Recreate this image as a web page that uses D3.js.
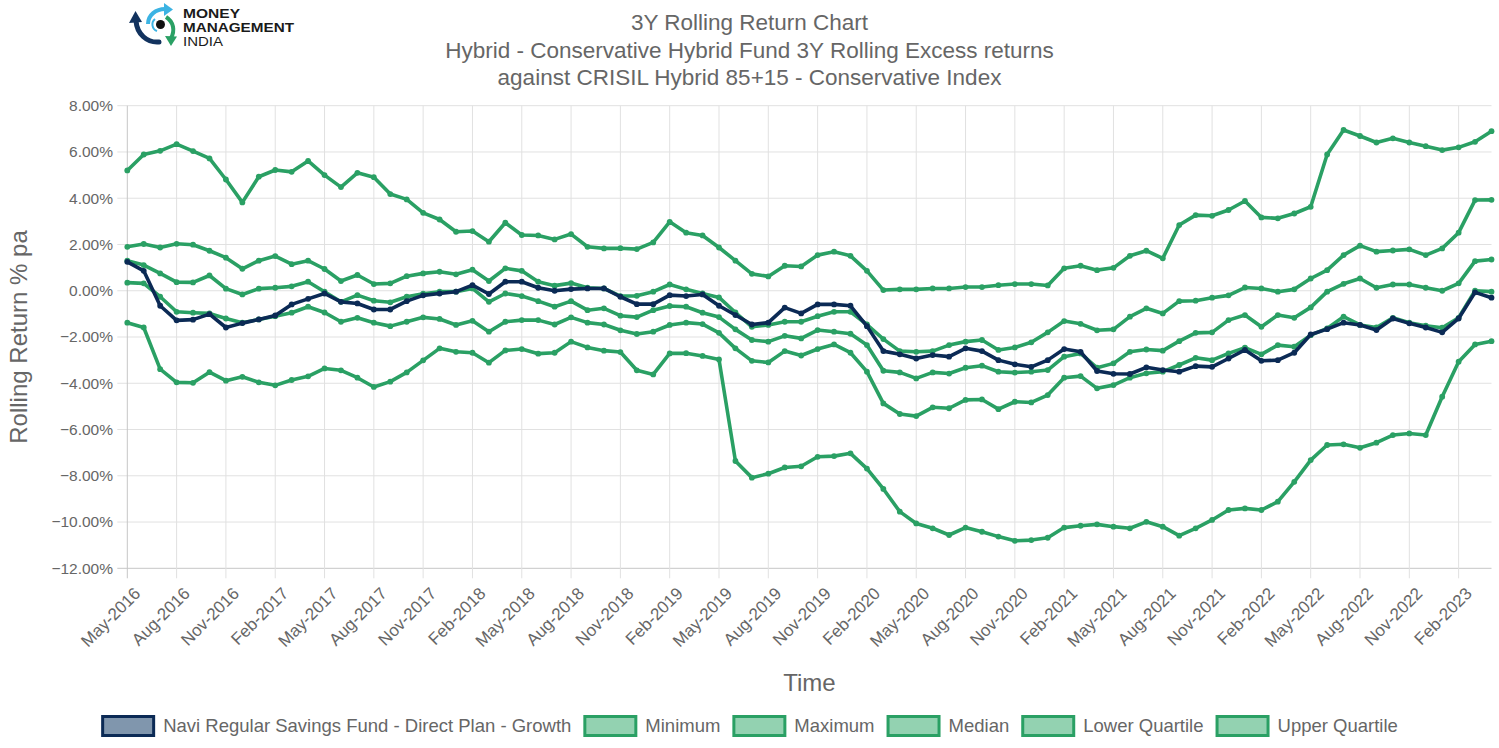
<!DOCTYPE html>
<html><head><meta charset="utf-8">
<script src="https://cdn.jsdelivr.net/npm/d3@7"></script>
<style>
body{margin:0;background:#fff;}
svg{display:block;font-family:"Liberation Sans",Arial,Helvetica,sans-serif;}
</style>
</head><body>
<svg id="chart" width="1499" height="748"></svg>
<script>
const months = ["May-2016","Jun-2016","Jul-2016","Aug-2016","Sep-2016","Oct-2016","Nov-2016","Dec-2016",
"Jan-2017","Feb-2017","Mar-2017","Apr-2017","May-2017","Jun-2017","Jul-2017","Aug-2017","Sep-2017","Oct-2017","Nov-2017","Dec-2017",
"Jan-2018","Feb-2018","Mar-2018","Apr-2018","May-2018","Jun-2018","Jul-2018","Aug-2018","Sep-2018","Oct-2018","Nov-2018","Dec-2018",
"Jan-2019","Feb-2019","Mar-2019","Apr-2019","May-2019","Jun-2019","Jul-2019","Aug-2019","Sep-2019","Oct-2019","Nov-2019","Dec-2019",
"Jan-2020","Feb-2020","Mar-2020","Apr-2020","May-2020","Jun-2020","Jul-2020","Aug-2020","Sep-2020","Oct-2020","Nov-2020","Dec-2020",
"Jan-2021","Feb-2021","Mar-2021","Apr-2021","May-2021","Jun-2021","Jul-2021","Aug-2021","Sep-2021","Oct-2021","Nov-2021","Dec-2021",
"Jan-2022","Feb-2022","Mar-2022","Apr-2022","May-2022","Jun-2022","Jul-2022","Aug-2022","Sep-2022","Oct-2022","Nov-2022","Dec-2022",
"Jan-2023","Feb-2023","Mar-2023","Apr-2023"];

const tickLabels = ["May-2016","Aug-2016","Nov-2016","Feb-2017","May-2017","Aug-2017","Nov-2017","Feb-2018",
"May-2018","Aug-2018","Nov-2018","Feb-2019","May-2019","Aug-2019","Nov-2019","Feb-2020","May-2020","Aug-2020",
"Nov-2020","Feb-2021","May-2021","Aug-2021","Nov-2021","Feb-2022","May-2022","Aug-2022","Nov-2022","Feb-2023"];

const yTicks = [-12,-10,-8,-6,-4,-2,0,2,4,6,8];

const navi = [1.25,0.86,-0.65,-1.28,-1.25,-1.01,-1.59,-1.40,-1.24,-1.07,-0.59,-0.35,
-0.12,-0.48,-0.55,-0.81,-0.81,-0.45,-0.20,-0.12,-0.04,0.24,-0.14,0.39,
0.39,0.13,0.00,0.07,0.10,0.10,-0.26,-0.58,-0.58,-0.19,-0.23,-0.16,
-0.65,-1.05,-1.46,-1.38,-0.73,-0.98,-0.59,-0.59,-0.65,-1.53,-2.61,-2.75,
-2.93,-2.78,-2.85,-2.49,-2.61,-3.00,-3.18,-3.29,-3.00,-2.52,-2.64,-3.47,
-3.59,-3.60,-3.31,-3.43,-3.50,-3.26,-3.29,-2.93,-2.56,-3.03,-3.00,-2.68,
-1.89,-1.66,-1.38,-1.48,-1.70,-1.20,-1.41,-1.59,-1.80,-1.20,-0.07,-0.30];

const minimum = [-1.38,-1.59,-3.39,-3.96,-3.98,-3.52,-3.89,-3.72,-3.96,-4.09,-3.86,-3.70,
-3.36,-3.44,-3.76,-4.16,-3.93,-3.53,-3.01,-2.49,-2.64,-2.68,-3.11,-2.58,
-2.52,-2.72,-2.68,-2.20,-2.45,-2.59,-2.65,-3.44,-3.62,-2.71,-2.70,-2.82,
-2.97,-7.36,-8.08,-7.91,-7.64,-7.59,-7.18,-7.15,-7.03,-7.69,-8.57,-9.55,
-10.06,-10.27,-10.56,-10.24,-10.42,-10.63,-10.81,-10.78,-10.68,-10.24,-10.16,-10.10,
-10.20,-10.27,-9.99,-10.20,-10.59,-10.27,-9.91,-9.48,-9.41,-9.48,-9.12,-8.26,
-7.32,-6.67,-6.64,-6.79,-6.57,-6.24,-6.17,-6.24,-4.58,-3.07,-2.32,-2.18];

const maximum = [5.20,5.89,6.05,6.34,6.04,5.72,4.81,3.82,4.93,5.22,5.14,5.61,
5.00,4.48,5.10,4.91,4.18,3.95,3.37,3.08,2.55,2.58,2.12,2.94,
2.41,2.39,2.22,2.45,1.90,1.83,1.84,1.80,2.09,2.98,2.51,2.39,
1.87,1.30,0.73,0.62,1.08,1.05,1.54,1.69,1.51,0.86,0.03,0.06,
0.06,0.10,0.10,0.16,0.16,0.24,0.29,0.29,0.23,0.97,1.08,0.89,
0.99,1.51,1.73,1.40,2.84,3.27,3.24,3.49,3.88,3.17,3.13,3.34,
3.63,5.89,6.95,6.69,6.41,6.59,6.41,6.25,6.08,6.20,6.44,6.90];

const median = [1.30,1.11,0.75,0.37,0.36,0.66,0.09,-0.16,0.09,0.13,0.19,0.39,
-0.04,-0.48,-0.19,-0.43,-0.50,-0.26,-0.13,-0.04,-0.04,0.10,-0.48,-0.12,
-0.23,-0.45,-0.69,-0.45,-0.84,-0.76,-1.08,-1.14,-0.84,-0.66,-0.69,-0.95,
-1.14,-1.67,-2.13,-2.20,-1.95,-2.06,-1.70,-1.77,-1.86,-2.35,-3.46,-3.53,
-3.79,-3.53,-3.58,-3.33,-3.24,-3.50,-3.54,-3.50,-3.43,-2.85,-2.71,-3.33,
-3.14,-2.64,-2.54,-2.59,-2.18,-1.82,-1.80,-1.27,-1.05,-1.56,-1.05,-1.17,
-0.72,-0.04,0.30,0.53,0.13,0.27,0.27,0.13,0.00,0.32,1.28,1.35];

const lowerQuartile = [0.35,0.32,-0.26,-0.91,-0.95,-0.98,-1.20,-1.38,-1.24,-1.10,-0.95,-0.69,
-0.94,-1.34,-1.17,-1.38,-1.53,-1.34,-1.15,-1.22,-1.48,-1.30,-1.77,-1.34,
-1.27,-1.27,-1.46,-1.15,-1.38,-1.46,-1.71,-1.87,-1.77,-1.48,-1.38,-1.44,
-1.82,-2.49,-3.03,-3.10,-2.61,-2.80,-2.52,-2.32,-2.68,-3.50,-4.87,-5.33,
-5.42,-5.04,-5.08,-4.72,-4.70,-5.12,-4.80,-4.83,-4.51,-3.76,-3.69,-4.22,
-4.08,-3.76,-3.57,-3.50,-3.21,-2.90,-3.00,-2.71,-2.46,-2.75,-2.35,-2.42,
-1.92,-1.63,-1.12,-1.48,-1.59,-1.17,-1.38,-1.51,-1.60,-1.17,0.00,-0.04];

const upperQuartile = [1.90,2.02,1.87,2.03,1.99,1.73,1.43,0.95,1.30,1.50,1.15,1.30,
0.94,0.42,0.68,0.29,0.32,0.63,0.75,0.82,0.71,0.91,0.42,0.97,
0.86,0.39,0.22,0.33,0.13,0.10,-0.23,-0.22,-0.04,0.27,0.06,-0.12,
-0.29,-0.94,-1.56,-1.48,-1.34,-1.34,-1.10,-0.91,-0.91,-1.46,-2.09,-2.61,
-2.64,-2.61,-2.35,-2.20,-2.13,-2.56,-2.45,-2.23,-1.80,-1.31,-1.43,-1.71,
-1.67,-1.12,-0.76,-0.98,-0.45,-0.43,-0.30,-0.20,0.14,0.10,-0.04,0.06,
0.53,0.89,1.54,1.95,1.69,1.74,1.79,1.54,1.83,2.51,3.92,3.93];

const seriesNames = ["Navi Regular Savings Fund - Direct Plan - Growth","Minimum","Maximum","Median","Lower Quartile","Upper Quartile"];
const seriesValues = [navi, minimum, maximum, median, lowerQuartile, upperQuartile];

const titleLines = ["3Y Rolling Return Chart",
"Hybrid - Conservative Hybrid Fund 3Y Rolling Excess returns",
"against CRISIL Hybrid 85+15 - Conservative Index"];

const logoLines = ["MONEY", "MANAGEMENT", "INDIA"];

// ---- styling ----
const NAVY = "#0b2a55", NAVY_FILL = "#8096ad";
const GREEN = "#2aa064", GREEN_FILL = "#93d2b1";
const TXT = "#666";
const W = 1499, H = 748;
const L = 127.3, R = 1491.5, T = 105.7, B = 568.3;

const svg = d3.select("#chart");
svg.append("rect").attr("width", W).attr("height", H).attr("fill", "#fff");

const x = d3.scalePoint().domain(months).range([L, R]).padding(0);
const y = d3.scaleLinear().domain([-12, 8]).range([B, T]);

// grid
const grid = svg.append("g");
grid.selectAll("line.h").data(yTicks).join("line")
  .attr("x1", L - 10).attr("x2", R).attr("y1", d => y(d)).attr("y2", d => y(d))
  .attr("stroke", d => d === -12 ? "#c6c6c6" : "#e1e1e1").attr("stroke-width", 1);
grid.selectAll("line.v").data(tickLabels).join("line")
  .attr("x1", d => x(d)).attr("x2", d => x(d)).attr("y1", T).attr("y2", B + 10)
  .attr("stroke", (d, i) => i === 0 ? "#c6c6c6" : "#e1e1e1").attr("stroke-width", 1);

// y labels
svg.append("g").selectAll("text").data(yTicks).join("text")
  .attr("x", 113).attr("y", d => y(d)).attr("dy", "0.35em")
  .attr("text-anchor", "end").attr("fill", TXT).attr("font-size", 15.5)
  .text(d => d3.format(".2f")(d) + "%");

// x labels
svg.append("g").selectAll("text").data(tickLabels).join("text")
  .attr("transform", d => `translate(${x(d) + 10},${B + 22}) rotate(-45)`)
  .attr("dy", "0.35em")
  .attr("text-anchor", "end").attr("fill", TXT).attr("font-size", 17)
  .text(d => d);

// axis titles
svg.append("text").attr("transform", `translate(27,${(T + B) / 2}) rotate(-90)`)
  .attr("text-anchor", "middle").attr("fill", TXT).attr("font-size", 24)
  .text("Rolling Return % pa");
svg.append("text").attr("x", (L + R) / 2).attr("y", 691)
  .attr("text-anchor", "middle").attr("fill", TXT).attr("font-size", 24)
  .text("Time");

// title
svg.append("g").selectAll("text").data(titleLines).join("text")
  .attr("x", W / 2).attr("y", (d, i) => 30 + i * 27.5)
  .attr("text-anchor", "middle").attr("fill", TXT).attr("font-size", 22.5)
  .text(d => d);

// lines
const line = d3.line().x((d, i) => x(months[i])).y(d => y(d));
const order = [5, 4, 3, 2, 1, 0];
order.forEach(si => {
  const col = si === 0 ? NAVY : GREEN;
  const g = svg.append("g");
  g.append("path").datum(seriesValues[si]).attr("d", line)
    .attr("fill", "none").attr("stroke", col).attr("stroke-width", 3.6)
    .attr("stroke-linejoin", "round").attr("stroke-linecap", "round");
  g.selectAll("circle").data(seriesValues[si]).join("circle")
    .attr("cx", (d, i) => x(months[i])).attr("cy", d => y(d)).attr("r", 2.9)
    .attr("fill", col);
});

// legend
const leg = svg.append("g");
const boxW = 51, boxH = 19, gapT = 8, gapI = 12, fs = 18.5;
const items = seriesNames.map((n, i) => {
  const t = leg.append("text").attr("font-size", fs).attr("fill", TXT).text(n);
  return {t, w: t.node().getComputedTextLength(), i};
});
const total = d3.sum(items, d => boxW + 3 + gapT + d.w) + gapI * (items.length - 1);
let cx = (W - total) / 2;
items.forEach(d => {
  const col = d.i === 0 ? NAVY : GREEN;
  const fill = d.i === 0 ? NAVY_FILL : GREEN_FILL;
  leg.append("rect").attr("x", cx + 1.5).attr("y", 716.5).attr("width", boxW).attr("height", boxH)
    .attr("fill", fill).attr("stroke", col).attr("stroke-width", 3);
  d.t.attr("x", cx + boxW + 3 + gapT).attr("y", 732);
  cx += boxW + 3 + gapT + d.w + gapI;
});

// logo
const logo = svg.append("g");
logo.append("path").attr("d", "M159,42 C147,43 137,34 136,21").attr("fill", "none")
  .attr("stroke", "#12325e").attr("stroke-width", 5).attr("stroke-linecap", "round");
logo.append("path").attr("d", "M129,23 L135.5,11 L142,22 Z").attr("fill", "#12325e");
logo.append("path").attr("d", "M148,24 C148,15 156,9 165,9").attr("fill", "none")
  .attr("stroke", "#3cb3e3").attr("stroke-width", 4);
logo.append("path").attr("d", "M164,3 L173,9.5 L164,16 Z").attr("fill", "#3cb3e3");
logo.append("path").attr("d", "M166,17 C174,22 175,31 171,38").attr("fill", "none")
  .attr("stroke", "#2aa064").attr("stroke-width", 4);
logo.append("path").attr("d", "M165,36 L171,46 L177,36.5 Z").attr("fill", "#2aa064");
logo.append("path").attr("d", "M155,19 A7,7 0 0 0 157,31").attr("fill", "none")
  .attr("stroke", "#3cb3e3").attr("stroke-width", 2);
logo.append("circle").attr("cx", 160.5).attr("cy", 24.5).attr("r", 4.5).attr("fill", "#111");
const logoW = [57, 111, 40];
logo.selectAll("text.lg").data(logoLines).join("text")
  .attr("x", 183).attr("y", (d, i) => 18 + i * 14)
  .attr("font-size", 12.3).attr("font-weight", (d, i) => i < 2 ? "bold" : "normal")
  .attr("fill", "#1a1a1a")
  .attr("textLength", (d, i) => logoW[i]).attr("lengthAdjust", "spacingAndGlyphs")
  .text(d => d);
</script>
</body></html>
